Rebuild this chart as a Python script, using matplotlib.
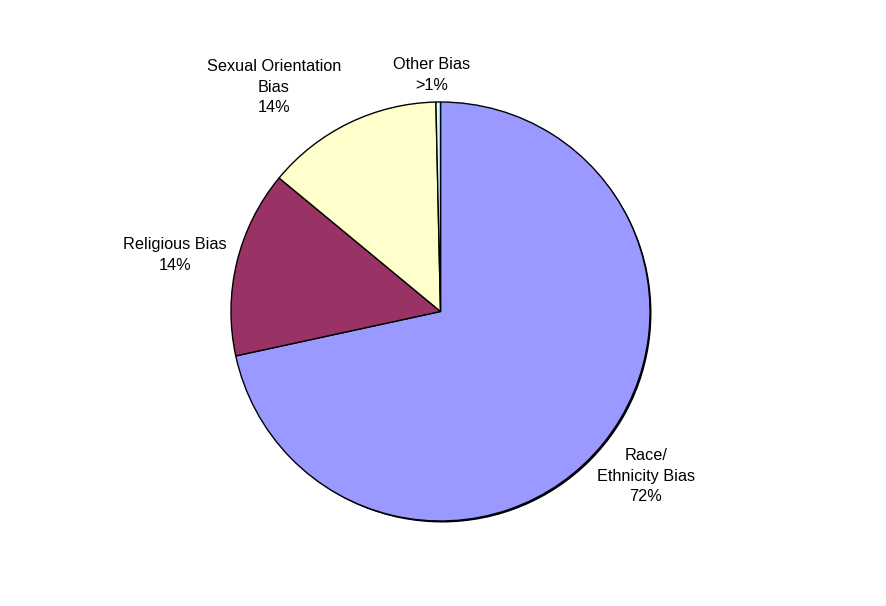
import matplotlib
matplotlib.use('Agg')
import matplotlib.pyplot as plt
from matplotlib.patches import Circle

# Data
categories = ['Race/\nEthnicity Bias', 'Religious Bias', 'Sexual Orientation\nBias', 'Other Bias']
values = [71.6, 14.4, 13.65, 0.35]
pct_labels = ['72%', '14%', '14%', '>1%']
colors = ['#9999FF', '#993366', '#FFFFCC', '#CCFFFF']

plt.rcParams['font.family'] = ['Liberation Sans', 'DejaVu Sans']

fig = plt.figure(figsize=(8.87, 6.06), dpi=100)
ax = fig.add_axes([0, 0, 1, 1])

cx, cy, r = 440.5, 294.5, 209.5

# slight drop shadow on the rim
ax.add_patch(Circle((cx + 1.5, cy - 1.5), r, facecolor='black', edgecolor='none', zorder=0))

ax.pie(values, colors=colors, startangle=90, counterclock=False,
       center=(cx, cy), radius=r, frame=True,
       wedgeprops=dict(edgecolor='black', linewidth=1.0))
ax.set_xlim(0, 887)
ax.set_ylim(0, 606)
ax.set_aspect('equal')
ax.axis('off')

label_pos = [(646, 130), (175, 351), (274, 519), (432, 531)]
for cat, pct, (x, y) in zip(categories, pct_labels, label_pos):
    ax.text(x, y, cat + '\n' + pct, ha='center', va='center',
            fontsize=11.7, linespacing=1.43, color='black')

fig.savefig('out.png', dpi=100, facecolor='white')
